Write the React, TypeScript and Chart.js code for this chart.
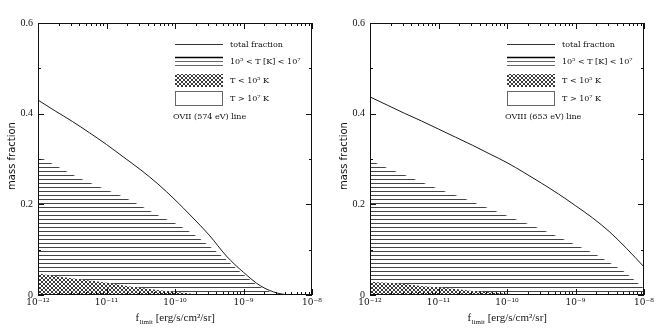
import React, { useEffect, useRef } from 'react';
import { Chart, registerables } from 'chart.js';
Chart.register(...registerables);

// ---------------- data ----------------
const LOG_F = [-12, -11.75, -11.5, -11.25, -11, -10.75, -10.5, -10.25, -10, -9.75, -9.5, -9.25, -9, -8.75, -8.5, -8.25, -8];

// OVII (574 eV)
const OVII_TOTAL = [0.430, 0.406, 0.383, 0.358, 0.332, 0.304, 0.276, 0.245, 0.210, 0.172, 0.132, 0.086, 0.050, 0.020, 0.004, 0.0, 0.0];
const OVII_BELOW_1E7 = [0.306, 0.286, 0.266, 0.248, 0.232, 0.216, 0.197, 0.176, 0.158, 0.136, 0.108, 0.078, 0.045, 0.017, 0.002, 0.0, 0.0];
const OVII_BELOW_1E5 = [0.048, 0.042, 0.037, 0.032, 0.027, 0.021, 0.016, 0.011, 0.007, 0.003, 0.001, 0, 0, 0, 0, 0, 0];

// OVIII (653 eV)
const OVIII_TOTAL = [0.437, 0.419, 0.401, 0.384, 0.366, 0.348, 0.330, 0.311, 0.292, 0.270, 0.247, 0.223, 0.197, 0.170, 0.139, 0.102, 0.062];
const OVIII_BELOW_1E7 = [0.298, 0.280, 0.265, 0.249, 0.234, 0.220, 0.205, 0.190, 0.175, 0.160, 0.145, 0.128, 0.111, 0.093, 0.071, 0.047, 0.014];
const OVIII_BELOW_1E5 = [0.029, 0.027, 0.024, 0.020, 0.017, 0.013, 0.009, 0.006, 0.003, 0.001, 0, 0, 0, 0, 0, 0, 0];

const X_TICKS = [1e-12, 1e-11, 1e-10, 1e-9, 1e-8];
const X_TICK_LABELS = ['10⁻¹²', '10⁻¹¹', '10⁻¹⁰', '10⁻⁹', '10⁻⁸'];
const Y_TICKS = [0, 0.2, 0.4, 0.6];
const Y_TICK_LABELS = ['0', '0.2', '0.4', '0.6'];
const Y_MINOR = [0, 0.1, 0.2, 0.3, 0.4, 0.5, 0.6];

const LEGEND_TOTAL = 'total fraction';
const LEGEND_WARM = '10⁵ < T [K] < 10⁷';
const LEGEND_COLD = 'T < 10⁵ K';
const LEGEND_HOT = 'T > 10⁷ K';
const Y_TITLE = 'mass fraction';
const X_TITLE_MAIN = 'f';
const X_TITLE_SUB = 'limit';
const X_TITLE_REST = ' [erg/s/cm²/sr]';

const PANELS = [
  { line: 'OVII (574 eV) line', total: OVII_TOTAL, warm: OVII_BELOW_1E7, cold: OVII_BELOW_1E5 },
  { line: 'OVIII (653 eV) line', total: OVIII_TOTAL, warm: OVIII_BELOW_1E7, cold: OVIII_BELOW_1E5 },
];

// ---------------- patterns ----------------
function hLinePattern(ctx: CanvasRenderingContext2D) {
  const c = document.createElement('canvas');
  c.width = 8; c.height = 4;
  const g = c.getContext('2d')!;
  g.fillStyle = '#444444';
  g.fillRect(0, 3, 8, 1);
  return ctx.createPattern(c, 'repeat')!;
}
function crossPattern(ctx: CanvasRenderingContext2D) {
  const c = document.createElement('canvas');
  c.width = 4; c.height = 4;
  const g = c.getContext('2d')!;
  g.fillStyle = '#ffffff';
  g.fillRect(0, 0, 4, 4);
  g.fillStyle = '#3a3a3a';
  for (let i = 0; i < 4; i++) {
    g.fillRect(i, i, 1, 1);
    g.fillRect(3 - i, i, 1, 1);
  }
  return ctx.createPattern(c, 'repeat')!;
}

function pts(arr: number[]) {
  return LOG_F.map((lf, i) => ({ x: Math.pow(10, lf), y: arr[i] }));
}

const frameAndLegend = {
  id: 'frameAndLegend',
  afterDatasetsDraw(chart: any, _args: any, opts: any) {
    const ctx: CanvasRenderingContext2D = chart.ctx;
    const ca = chart.chartArea;
    const xs = chart.scales.x;
    const ys = chart.scales.y;
    ctx.save();
    // frame
    ctx.strokeStyle = '#111';
    ctx.lineWidth = 1;
    ctx.strokeRect(Math.round(ca.left) + 0.5, Math.round(ca.top) + 0.5, Math.round(ca.right - ca.left) - 1, Math.round(ca.bottom - ca.top) - 1);
    // x ticks (top & bottom, inward)
    ctx.beginPath();
    for (let d = -12; d <= -8; d++) {
      for (let m = 1; m <= 9; m++) {
        if (d === -8 && m > 1) break;
        const v = m * Math.pow(10, d);
        const px = Math.round(xs.getPixelForValue(v)) + 0.5;
        const len = m === 1 ? 6 : 3;
        ctx.moveTo(px, ca.top); ctx.lineTo(px, ca.top + len);
        ctx.moveTo(px, ca.bottom); ctx.lineTo(px, ca.bottom - len);
      }
    }
    // y ticks (left & right, inward)
    Y_MINOR.forEach((v, i) => {
      const py = Math.round(ys.getPixelForValue(v)) + 0.5;
      const len = i % 2 === 0 ? 6 : 3;
      ctx.moveTo(ca.left, py); ctx.lineTo(ca.left + len, py);
      ctx.moveTo(ca.right, py); ctx.lineTo(ca.right - len, py);
    });
    ctx.stroke();

    // legend
    const x0 = ca.left + 137, x1 = ca.left + 185, tx = ca.left + 192;
    const t = ca.top;
    ctx.font = '8px "DejaVu Serif"';
    ctx.fillStyle = '#111';
    ctx.textBaseline = 'middle';
    ctx.textAlign = 'left';
    // total
    ctx.strokeStyle = '#333'; ctx.lineWidth = 1;
    ctx.beginPath(); ctx.moveTo(x0, t + 21.5); ctx.lineTo(x1, t + 21.5); ctx.stroke();
    ctx.fillText(LEGEND_TOTAL, tx, t + 21.5);
    // warm
    ctx.strokeStyle = '#000'; ctx.lineWidth = 1.5;
    ctx.beginPath(); ctx.moveTo(x0, t + 34.5); ctx.lineTo(x1, t + 34.5); ctx.stroke();
    ctx.strokeStyle = '#666'; ctx.lineWidth = 1;
    ctx.beginPath();
    ctx.moveTo(x0, t + 38.5); ctx.lineTo(x1, t + 38.5);
    ctx.moveTo(x0, t + 42.5); ctx.lineTo(x1, t + 42.5);
    ctx.stroke();
    ctx.fillText(LEGEND_WARM, tx, t + 38.5);
    // cold
    ctx.fillStyle = opts.cross;
    ctx.fillRect(x0, t + 51, x1 - x0, 13);
    ctx.fillStyle = '#111';
    ctx.fillText(LEGEND_COLD, tx, t + 58);
    // hot
    ctx.strokeStyle = '#666'; ctx.lineWidth = 1;
    ctx.strokeRect(x0 + 0.5, t + 68.5, x1 - x0 - 1, 14);
    ctx.fillText(LEGEND_HOT, tx, t + 76);
    // line name
    ctx.fillText(opts.line, x0 - 2, t + 94);

    // axis titles
    ctx.save();
    ctx.font = '10px "DejaVu Sans"';
    ctx.textAlign = 'center';
    ctx.translate(12, (ca.top + ca.bottom) / 2 - 3);
    ctx.rotate(-Math.PI / 2);
    ctx.fillText(Y_TITLE, 0, 0);
    ctx.restore();

    ctx.textBaseline = 'alphabetic';
    ctx.textAlign = 'left';
    const big = '11px "Liberation Serif"';
    const small = '7px "Liberation Serif"';
    ctx.font = big; const w1 = ctx.measureText(X_TITLE_MAIN).width;
    ctx.font = small; const w2 = ctx.measureText(X_TITLE_SUB).width;
    ctx.font = big; const w3 = ctx.measureText(X_TITLE_REST).width;
    let sx = (ca.left + ca.right) / 2 - (w1 + w2 + w3) / 2;
    const by = ca.bottom + 26;
    ctx.font = big; ctx.fillText(X_TITLE_MAIN, sx, by); sx += w1 + 0.5;
    ctx.font = small; ctx.fillText(X_TITLE_SUB, sx, by + 3); sx += w2;
    ctx.font = big; ctx.fillText(X_TITLE_REST, sx, by);
    ctx.restore();
  },
};

function Panel({ idx }: { idx: number }) {
  const ref = useRef<HTMLCanvasElement>(null);
  useEffect(() => {
    const canvas = ref.current!;
    const ctx = canvas.getContext('2d')!;
    const p = PANELS[idx];
    const hPat = hLinePattern(ctx);
    const xPat = crossPattern(ctx);
    const common = { pointRadius: 0, cubicInterpolationMode: 'monotone' };
    const chart = new Chart(canvas, {
      type: 'line',
      data: {
        datasets: [
          { ...common, label: LEGEND_TOTAL, data: pts(p.total), borderColor: '#1a1a1a', borderWidth: 1, fill: false, order: 0 },
          { ...common, label: LEGEND_COLD, data: pts(p.cold), borderColor: 'rgba(0,0,0,0)', borderWidth: 0, backgroundColor: xPat, fill: 'origin', order: 1 },
          { ...common, label: LEGEND_WARM, data: pts(p.warm), borderColor: 'rgba(0,0,0,0)', borderWidth: 0, backgroundColor: hPat, fill: 'origin', order: 2 },
        ],
      } as any,
      options: {
        animation: false,
        responsive: false,
        events: [],
        layout: { padding: { left: 0, right: 20, top: 23, bottom: 0 } },
        plugins: {
          legend: { display: false },
          tooltip: { enabled: false },
          frameAndLegend: { line: p.line, cross: xPat },
        } as any,
        scales: {
          x: {
            type: 'logarithmic',
            min: 1e-12,
            max: 1e-8,
            grid: { display: false, drawTicks: false },
            border: { display: false },
            afterBuildTicks: (s: any) => { s.ticks = X_TICKS.map((v) => ({ value: v })); },
            afterFit: (s: any) => { s.height = 39; },
            ticks: {
              autoSkip: false,
              maxRotation: 0,
              padding: 2,
              color: '#111',
              font: { family: '"DejaVu Serif"', size: 9 },
              callback: (v: any) => {
                const i = X_TICKS.findIndex((t) => Math.abs(Math.log10(t) - Math.log10(Number(v))) < 1e-6);
                return i >= 0 ? X_TICK_LABELS[i] : '';
              },
            },
          },
          y: {
            type: 'linear',
            min: 0,
            max: 0.6,
            grid: { display: false, drawTicks: false },
            border: { display: false },
            afterBuildTicks: (s: any) => { s.ticks = Y_TICKS.map((v) => ({ value: v })); },
            afterFit: (s: any) => { s.width = 38; },
            ticks: {
              padding: 5,
              color: '#111',
              font: { family: '"Liberation Serif"', size: 10 },
              callback: (v: any) => {
                const i = Y_TICKS.findIndex((t) => Math.abs(t - Number(v)) < 1e-9);
                return i >= 0 ? Y_TICK_LABELS[i] : '';
              },
            },
          },
        },
      } as any,
      plugins: [frameAndLegend as any],
    });
    return () => chart.destroy();
  }, [idx]);
  return <canvas ref={ref} width={332} height={334} style={{ width: 332, height: 334, display: 'block' }} />;
}

export default function App() {
  return (
    <div style={{ position: 'absolute', left: 0, top: 0, width: 664, height: 334, display: 'flex', background: '#fff' }}>
      <Panel idx={0} />
      <Panel idx={1} />
    </div>
  );
}
